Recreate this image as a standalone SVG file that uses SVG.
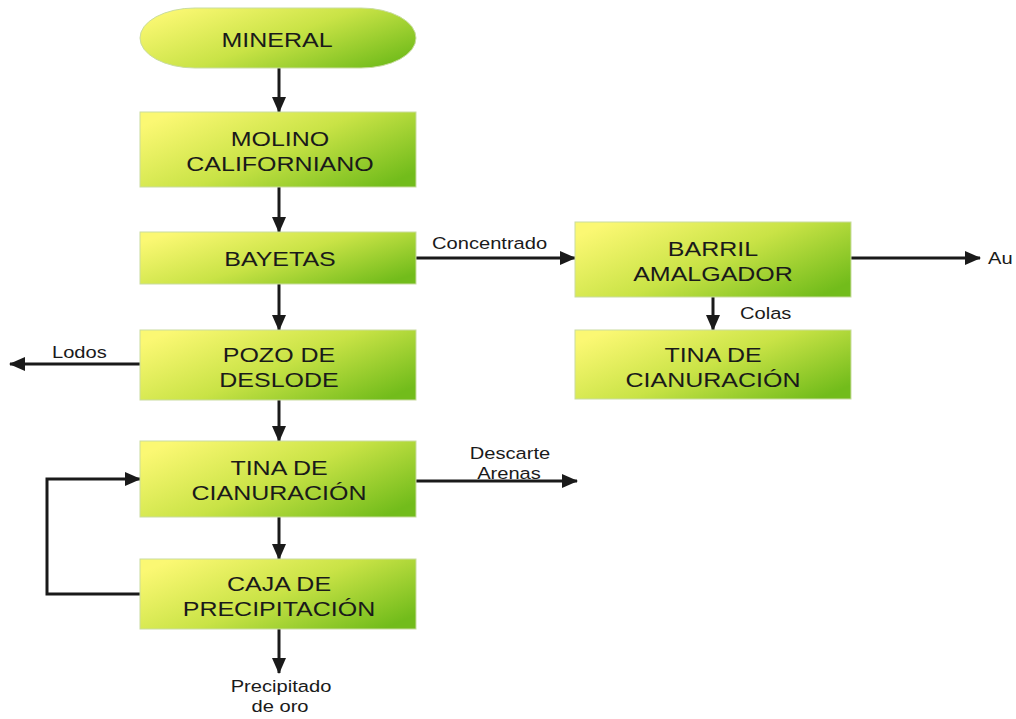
<svg xmlns="http://www.w3.org/2000/svg" width="1016" height="719" viewBox="0 0 1016 719">
<defs>
<linearGradient id="g" x1="0" y1="0.2" x2="1" y2="0.8">
<stop offset="0" stop-color="#fbf873"/>
<stop offset="0.5" stop-color="#c9e346"/>
<stop offset="1" stop-color="#72bc1b"/>
</linearGradient>
<marker id="ah" viewBox="0 0 16 14" refX="15" refY="7" markerWidth="16" markerHeight="14" markerUnits="userSpaceOnUse" orient="auto">
<path d="M0,0 L16,7 L0,14 Z" fill="#1a1a1a"/>
</marker>
<style>
.box{fill:url(#g);stroke:#c9dca0;stroke-width:1}
.t{font-family:"Liberation Sans",Arial,sans-serif;font-size:21px;fill:#1a1a1a;text-anchor:middle}
.l{font-family:"Liberation Sans",Arial,sans-serif;font-size:16.5px;fill:#1a1a1a}
.m{text-anchor:middle}
.c{fill:none;stroke:#1a1a1a;stroke-width:3}
</style>
</defs>
<rect width="1016" height="719" fill="#ffffff"/>
<g id="connectors">
<line class="c" x1="279" y1="68" x2="279" y2="112" marker-end="url(#ah)"/>
<line class="c" x1="279" y1="187" x2="279" y2="232" marker-end="url(#ah)"/>
<line class="c" x1="279" y1="284" x2="279" y2="330" marker-end="url(#ah)"/>
<line class="c" x1="279" y1="400" x2="279" y2="441" marker-end="url(#ah)"/>
<line class="c" x1="279" y1="517" x2="279" y2="559" marker-end="url(#ah)"/>
<line class="c" x1="279" y1="629" x2="279" y2="673" marker-end="url(#ah)"/>
<line class="c" x1="416" y1="258" x2="575" y2="258" marker-end="url(#ah)"/>
<line class="c" x1="851" y1="258" x2="980" y2="258" marker-end="url(#ah)"/>
<line class="c" x1="713" y1="297" x2="713" y2="330" marker-end="url(#ah)"/>
<line class="c" x1="140" y1="364" x2="10" y2="364" marker-end="url(#ah)"/>
<line class="c" x1="416" y1="481" x2="577" y2="481" marker-end="url(#ah)"/>
<polyline class="c" points="140,594 47,594 47,479 140,479" marker-end="url(#ah)"/>
<text class="l" transform="translate(432,249) scale(1.22,1)">Concentrado</text>
<text class="l" transform="translate(988,264) scale(1.22,1)">Au</text>
<text class="l" transform="translate(740,319) scale(1.22,1)">Colas</text>
<text class="l" transform="translate(52,358) scale(1.22,1)">Lodos</text>
<text class="l m" transform="translate(510,459) scale(1.22,1)">Descarte</text>
<text class="l m" transform="translate(509,479) scale(1.22,1)">Arenas</text>
<text class="l m" transform="translate(281,692) scale(1.22,1)">Precipitado</text>
<text class="l m" transform="translate(280,712) scale(1.22,1)">de oro</text>
</g>
<g id="mineral">
<rect class="box" x="140" y="8" width="276" height="60" rx="55" ry="30"/>
<text class="t" transform="translate(277,47) scale(1.19,1)">MINERAL</text>
</g>
<g id="molino">
<rect class="box" x="140" y="112" width="276" height="75"/>
<text class="t" transform="translate(280,146) scale(1.19,1)">MOLINO</text>
<text class="t" transform="translate(280,171) scale(1.19,1)">CALIFORNIANO</text>
</g>
<g id="bayetas">
<rect class="box" x="140" y="232" width="276" height="52"/>
<text class="t" transform="translate(280,266) scale(1.19,1)">BAYETAS</text>
</g>
<g id="pozo">
<rect class="box" x="140" y="330" width="276" height="70"/>
<text class="t" transform="translate(279,362) scale(1.19,1)">POZO DE</text>
<text class="t" transform="translate(279,387) scale(1.19,1)">DESLODE</text>
</g>
<g id="tina1">
<rect class="box" x="140" y="441" width="276" height="76"/>
<text class="t" transform="translate(279,475) scale(1.19,1)">TINA DE</text>
<text class="t" transform="translate(279,500) scale(1.19,1)">CIANURACIÓN</text>
</g>
<g id="caja">
<rect class="box" x="140" y="559" width="276" height="70"/>
<text class="t" transform="translate(279,591) scale(1.19,1)">CAJA DE</text>
<text class="t" transform="translate(279,616) scale(1.19,1)">PRECIPITACIÓN</text>
</g>
<g id="barril">
<rect class="box" x="575" y="222" width="276" height="75"/>
<text class="t" transform="translate(713,256) scale(1.19,1)">BARRIL</text>
<text class="t" transform="translate(713,281) scale(1.19,1)">AMALGADOR</text>
</g>
<g id="tina2">
<rect class="box" x="575" y="330" width="276" height="69"/>
<text class="t" transform="translate(713,362) scale(1.19,1)">TINA DE</text>
<text class="t" transform="translate(713,387) scale(1.19,1)">CIANURACIÓN</text>
</g>
</svg>
